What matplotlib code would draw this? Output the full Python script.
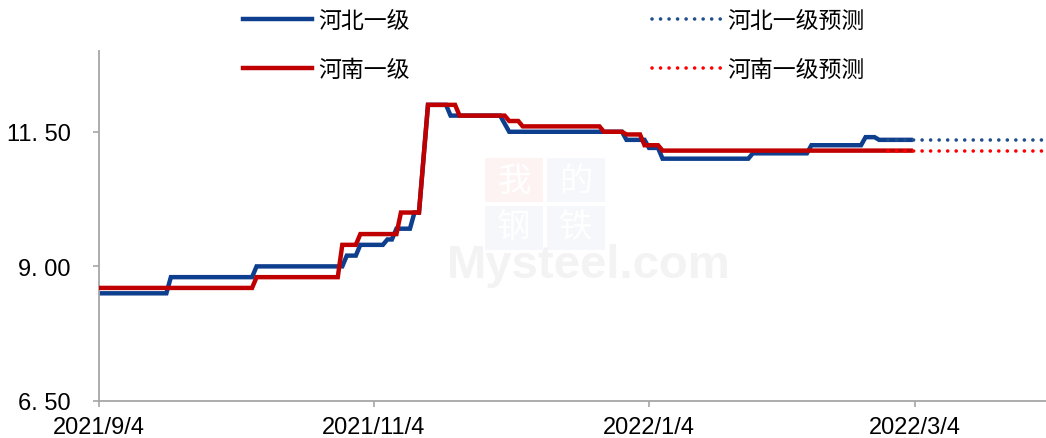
import numpy as np
import pandas as pd
import matplotlib
matplotlib.use("Agg")
import matplotlib.pyplot as plt
from matplotlib.patches import Rectangle

# 河北一级 (step vertices)
hb_dates = ['2021-09-04', '2021-09-19', '2021-09-20', '2021-10-08', '2021-10-09',
            '2021-10-28', '2021-10-29', '2021-10-31', '2021-11-01', '2021-11-06',
            '2021-11-07', '2021-11-08', '2021-11-09', '2021-11-12', '2021-11-13',
            '2021-11-14', '2021-11-16', '2021-11-20', '2021-11-21', '2021-12-02',
            '2021-12-04', '2021-12-29', '2021-12-30', '2022-01-03', '2022-01-04',
            '2022-01-06', '2022-01-07', '2022-01-26', '2022-01-27', '2022-02-08',
            '2022-02-09', '2022-02-20', '2022-02-21', '2022-02-23', '2022-02-24',
            '2022-03-03']
hb_vals = [8.50, 8.50, 8.80, 8.80, 9.00,
           9.00, 9.20, 9.20, 9.40, 9.40,
           9.50, 9.50, 9.70, 9.70, 10.00,
           10.00, 12.00, 12.00, 11.80, 11.80,
           11.50, 11.50, 11.35, 11.35, 11.20,
           11.20, 11.00, 11.00, 11.10, 11.10,
           11.25, 11.25, 11.40, 11.40, 11.35,
           11.35]

# 河南一级
hn_dates = ['2021-09-04', '2021-10-08', '2021-10-09', '2021-10-27', '2021-10-28',
            '2021-10-31', '2021-11-01', '2021-11-09', '2021-11-10', '2021-11-14',
            '2021-11-16', '2021-11-22', '2021-11-23', '2021-12-03', '2021-12-04',
            '2021-12-06', '2021-12-07', '2021-12-24', '2021-12-25', '2021-12-29',
            '2021-12-30', '2022-01-02', '2022-01-03', '2022-01-06', '2022-01-07',
            '2022-03-03']
hn_vals = [8.60, 8.60, 8.80, 8.80, 9.40,
           9.40, 9.60, 9.60, 10.00, 10.00,
           12.00, 12.00, 11.80, 11.80, 11.70,
           11.70, 11.60, 11.60, 11.50, 11.50,
           11.45, 11.45, 11.25, 11.25, 11.15,
           11.15]

# forecasts
fc_dates = ['2022-02-26', '2022-04-02']
hb_fc = [11.35, 11.35]
hn_fc = [11.15, 11.15]

x_ticks = ['2021-09-04', '2021-11-04', '2022-01-04', '2022-03-04']
x_labels = ['2021/9/4', '2021/11/4', '2022/1/4', '2022/3/4']
y_ticks = [6.5, 9.0, 11.5]
y_labels = ['6. 50', '9. 00', '11. 50']

W, H = 1046, 439
fig = plt.figure(figsize=(W / 100, H / 100), dpi=100)
ax = fig.add_axes([98.7 / W, 37 / H, 1 - 98.7 / W, 350 / H])

def fp(x, y):  # pixel -> figure fraction
    return x / W, 1 - y / H

# faint watermark
for (x0, y0, c) in [(485, 203, '#FEF3F3'), (547, 203, '#F6F7FB'),
                    (485, 251, '#F6F7FB'), (547, 251, '#F6F7FB')]:
    ax.add_patch(Rectangle(fp(x0, y0), 58 / W, 44 / H, transform=fig.transFigure,
                           color=c, lw=0, zorder=0.5, clip_on=False))
for ch, (x0, y0) in zip('我的钢铁', [(514, 181), (576, 181), (514, 228), (576, 228)]):
    ax.text(*fp(x0, y0), ch, transform=fig.transFigure, color='white', fontsize=24,
            family='Noto Sans CJK SC', ha='center', va='center', zorder=0.6)
ax.text(*fp(447, 278), 'Mysteel.com', transform=fig.transFigure, color='#F3F3F3',
        fontsize=34, family='Liberation Sans', weight='bold', ha='left',
        va='baseline', zorder=0.5)

blue, red = '#0D3F8E', '#C00000'
ax.plot(pd.to_datetime(hb_dates), hb_vals, color=blue, lw=3.2, label='河北一级',
        solid_joinstyle='miter', zorder=2)
ax.plot(pd.to_datetime(hn_dates), hn_vals, color=red, lw=3.2, label='河南一级',
        solid_joinstyle='miter', zorder=3)
ax.plot(pd.to_datetime(fc_dates), hb_fc, color='#1F4E8C', lw=2.6,
        dashes=(0.01, 2.35), dash_capstyle='round', label='河北一级预测', zorder=2)
ax.plot(pd.to_datetime(fc_dates), hn_fc, color='#FF0000', lw=2.6,
        dashes=(0.01, 2.35), dash_capstyle='round', label='河南一级预测', zorder=3)

ax.set_xlim(pd.Timestamp('2021-09-04'), pd.Timestamp('2022-04-02'))
ax.set_ylim(6.5, 13.0)
ax.set_xticks(pd.to_datetime(x_ticks))
ax.set_xticklabels(x_labels)
ax.set_yticks(y_ticks)
ax.set_yticklabels(y_labels)

for s in ['top', 'right']:
    ax.spines[s].set_visible(False)
for s in ['left', 'bottom']:
    ax.spines[s].set_color('#A6A6A6')
    ax.spines[s].set_linewidth(1.3)
ax.tick_params(axis='both', colors='#A6A6A6', length=4, width=1.2)
ax.tick_params(axis='x', pad=7)
ax.tick_params(axis='y', pad=16)
for lab in ax.get_xticklabels() + ax.get_yticklabels():
    lab.set_family('Liberation Sans')
    lab.set_fontsize(17)
    lab.set_color('black')

fig.legend(loc='upper left', bbox_to_anchor=fp(243, 10), ncol=2, frameon=False,
           prop={'family': ['Noto Sans CJK SC', 'DejaVu Sans'], 'size': 16.5},
           handlelength=3.0, handletextpad=0.3, columnspacing=10.55,
           labelspacing=1.12, borderpad=0, borderaxespad=0)

fig.savefig('out.png', dpi=100)
